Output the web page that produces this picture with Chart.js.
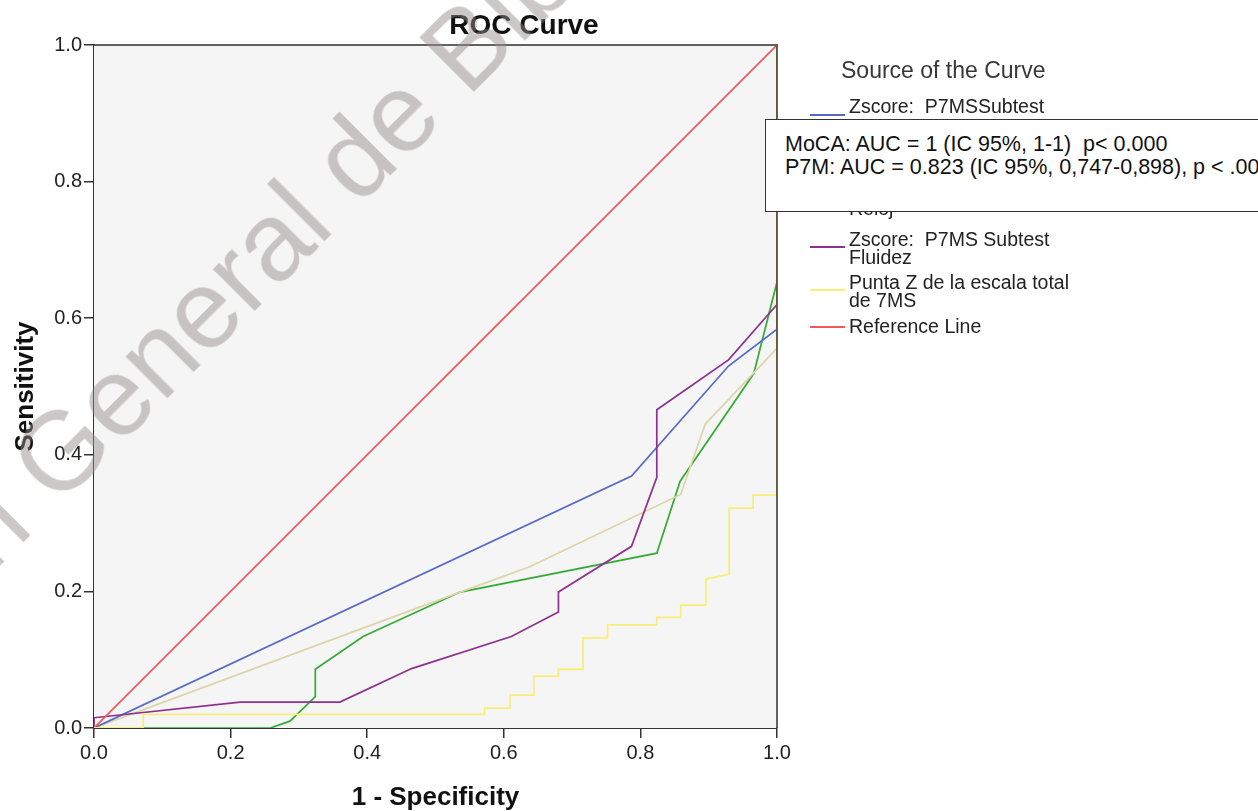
<!DOCTYPE html>
<html>
<head>
<meta charset="utf-8">
<script src="https://cdn.jsdelivr.net/npm/chart.js@4.4.1/dist/chart.umd.min.js"></script>
<style>
  body { margin: 0; background: #fff; font-family: "Liberation Sans", Arial, sans-serif; }
  #wrap { position: relative; width: 1258px; height: 811px; overflow: hidden; }
  #wrap canvas { position: absolute; left: 0; top: 0; }
  .title { position: absolute; left: 524px; top: 25px; transform: translate(-50%, -50%);
           font-size: 28px; font-weight: bold; color: #111; white-space: nowrap; }
  .lg-head { position: absolute; left: 841px; top: 57px; font-size: 23px; line-height: 26px; color: #383838; white-space: nowrap; }
  .lg-sw { position: absolute; left: 810px; width: 35px; height: 2px; }
  .lg-txt { position: absolute; left: 849px; font-size: 19.5px; line-height: 17.5px; color: #222; white-space: pre; }
  .box { position: absolute; left: 765px; top: 119px; width: 520px; height: 93px; background: #fff;
         border: 1px solid #333; box-sizing: border-box; z-index: 5; }
  .box div { position: absolute; left: 19px; font-size: 21.5px; line-height: 16px; color: #111; white-space: pre; }
  .wm { position: absolute; font-size: 111px; line-height: 111px; color: rgba(150,140,140,0.48);
        white-space: nowrap; transform-origin: 0 94px; pointer-events: none; z-index: 6; }
</style>
</head>
<body>
<div id="wrap">
  <canvas id="roc"></canvas>
  <div class="title">ROC Curve</div>
  <div id="legend"></div>
  <div class="box">
    <div style="top:16px">MoCA: AUC = 1 (IC 95%, 1-1)  p&lt; 0.000</div>
    <div style="top:39px">P7M: AUC = 0.823 (IC 95%, 0,747-0,898), p &lt; .001</div>
  </div>
  <div class="wm" id="wm"><span style="position:absolute; right:100%">Dirección&nbsp;</span>General de Bibliotecas</div>
</div>
<script>
// tick labels
const tickValues = [0, 0.2, 0.4, 0.6, 0.8, 1.0];

// 1 - specificity / sensitivity for each curve
const blueX = [0, 0.787, 0.929, 1.0, 1.0];
const blueY = [0, 0.369, 0.530, 0.584, 1.0];

const greenX = [0, 0.258, 0.287, 0.324, 0.324, 0.394, 0.536, 0.824, 0.858, 0.966, 1.0, 1.0];
const greenY = [0, 0, 0.010, 0.046, 0.086, 0.134, 0.199, 0.256, 0.361, 0.519, 0.653, 1.0];

const tanX = [0, 0.536, 0.638, 0.859, 0.895, 1.0, 1.0];
const tanY = [0, 0.199, 0.236, 0.342, 0.445, 0.556, 1.0];

const purpleX = [0, 0, 0.214, 0.360, 0.465, 0.611, 0.680, 0.680, 0.787, 0.824, 0.824, 0.929, 1.0, 1.0];
const purpleY = [0, 0.015, 0.038, 0.038, 0.087, 0.134, 0.170, 0.199, 0.266, 0.367, 0.466, 0.539, 0.620, 1.0];

const yellowX = [0, 0.072, 0.072, 0.572, 0.572, 0.609, 0.609, 0.644, 0.644, 0.680, 0.680, 0.716, 0.716,
                 0.752, 0.752, 0.824, 0.824, 0.859, 0.859, 0.896, 0.896, 0.930, 0.930, 0.965, 0.965, 1.0, 1.0];
const yellowY = [0, 0, 0.020, 0.020, 0.029, 0.029, 0.048, 0.048, 0.076, 0.076, 0.086, 0.086, 0.132,
                 0.132, 0.151, 0.151, 0.162, 0.162, 0.180, 0.180, 0.218, 0.225, 0.322, 0.322, 0.341, 0.341, 1.0];

const refX = [0, 1];
const refY = [0, 1];

function pts(xs, ys) {
  return xs.map((x, i) => ({ x: x, y: ys[i] }));
}

// legend (the white annotation box covers part of it, like in the original)
const legendItems = [
  { color: '#5569c6', lines: ['Zscore:  P7MSSubtest'], top: 98, sw: 114 },
  { color: null, lines: ['Reloj'], top: 200 },
  { color: '#8e3090', lines: ['Zscore:  P7MS Subtest', 'Fluidez'], top: 231, sw: 246 },
  { color: '#f8ee78', lines: ['Punta Z de la escala total', 'de 7MS'], top: 274, sw: 289 },
  { color: '#f05a5a', lines: ['Reference Line'], top: 318, sw: 326 }
];

function buildLegend() {
  const el = document.getElementById('legend');
  let html = '<div class="lg-head">Source of the Curve</div>';
  legendItems.forEach(item => {
    if (item.color) {
      html += '<div class="lg-sw" style="top:' + item.sw + 'px;background:' + item.color + '"></div>';
    }
    html += '<div class="lg-txt" style="top:' + item.top + 'px">' + item.lines.join('\n') + '</div>';
  });
  el.innerHTML = html;
}

function placeWatermark() {
  const wm = document.getElementById('wm');
  // baseline start of "General", rotated up to the right
  const bx = 58, by = 509;
  wm.style.left = bx + 'px';
  wm.style.top = (by - 94) + 'px';
  wm.style.transform = 'rotate(-45deg)';
}

const plotFrame = {
  id: 'plotFrame',
  beforeDatasetsDraw(chart) {
    const a = chart.chartArea;
    const ctx = chart.ctx;
    ctx.save();
    ctx.fillStyle = '#f5f5f5';
    ctx.fillRect(a.left, a.top, a.right - a.left, a.bottom - a.top);
    ctx.restore();
  },
  afterDatasetsDraw(chart) {
    const a = chart.chartArea;
    const ctx = chart.ctx;
    ctx.save();
    ctx.strokeStyle = 'rgba(40,40,40,0.72)';
    ctx.lineWidth = 2;
    ctx.beginPath();
    ctx.moveTo(a.left, a.top);
    ctx.lineTo(a.right, a.top);
    ctx.lineTo(a.right, a.bottom);
    ctx.stroke();
    ctx.restore();
  }
};

function lineSet(label, data, color, width) {
  return {
    label: label,
    data: data,
    borderColor: color,
    borderWidth: width || 1.7,
    pointRadius: 0,
    showLine: true,
    tension: 0,
    fill: false
  };
}

document.addEventListener('DOMContentLoaded', function() {
  buildLegend();
  placeWatermark();

  const ctx = document.getElementById('roc').getContext('2d');
  new Chart(ctx, {
    type: 'scatter',
    data: {
      datasets: [
        lineSet('Punta Z de la escala total de 7MS', pts(yellowX, yellowY), '#f8ee78', 1.8),
        lineSet('Reference Line', pts(refX, refY), '#f05a5a'),
        lineSet('Zscore: P7MS Subtest Fluidez', pts(purpleX, purpleY), '#8e3090'),
        lineSet('Zscore: P7MSSubtest', pts(blueX, blueY), '#5569c6'),
        lineSet('Zscore: P7MS Subtest Reloj', pts(tanX, tanY), '#dcd5a8'),
        lineSet('Zscore: P7MS Subtest', pts(greenX, greenY), '#36aa36')
      ]
    },
    options: {
      responsive: true,
      maintainAspectRatio: false,
      animation: false,
      layout: {
        padding: { left: 0, top: 45, right: 481, bottom: 0 }
      },
      plugins: {
        legend: { display: false },
        tooltip: { enabled: false }
      },
      scales: {
        x: {
          type: 'linear',
          min: 0,
          max: 1,
          afterFit: function(scale) { scale.height = 83; },
          afterBuildTicks: function(scale) { scale.ticks = tickValues.map(v => ({ value: v })); },
          border: { display: true, color: '#333', width: 2 },
          grid: { display: true, drawOnChartArea: false, drawTicks: true, tickLength: 10, color: '#333', lineWidth: 1.5 },
          ticks: {
            padding: 3,
            color: '#222',
            font: { family: '"Liberation Sans", Arial', size: 20 },
            callback: function(value) { return value.toFixed(1); }
          },
          title: {
            display: true,
            text: '1 - Specificity',
            color: '#111',
            padding: { top: 0, bottom: 0 },
            font: { family: '"Liberation Sans", Arial', size: 26, weight: 'bold', lineHeight: 1.0 }
          }
        },
        y: {
          type: 'linear',
          min: 0,
          max: 1,
          afterFit: function(scale) { scale.width = 94; },
          afterBuildTicks: function(scale) { scale.ticks = tickValues.map(v => ({ value: v })); },
          border: { display: true, color: '#333', width: 2 },
          grid: { display: true, drawOnChartArea: false, drawTicks: true, tickLength: 10, color: '#333', lineWidth: 1.5 },
          ticks: {
            padding: 2,
            color: '#222',
            font: { family: '"Liberation Sans", Arial', size: 20 },
            callback: function(value) { return value.toFixed(1); }
          },
          title: {
            display: true,
            text: 'Sensitivity',
            color: '#111',
            padding: { top: 10, bottom: 0 },
            font: { family: '"Liberation Sans", Arial', size: 26, weight: 'bold', lineHeight: 1.2 }
          }
        }
      }
    },
    plugins: [plotFrame]
  });
});
</script>
</body>
</html>
